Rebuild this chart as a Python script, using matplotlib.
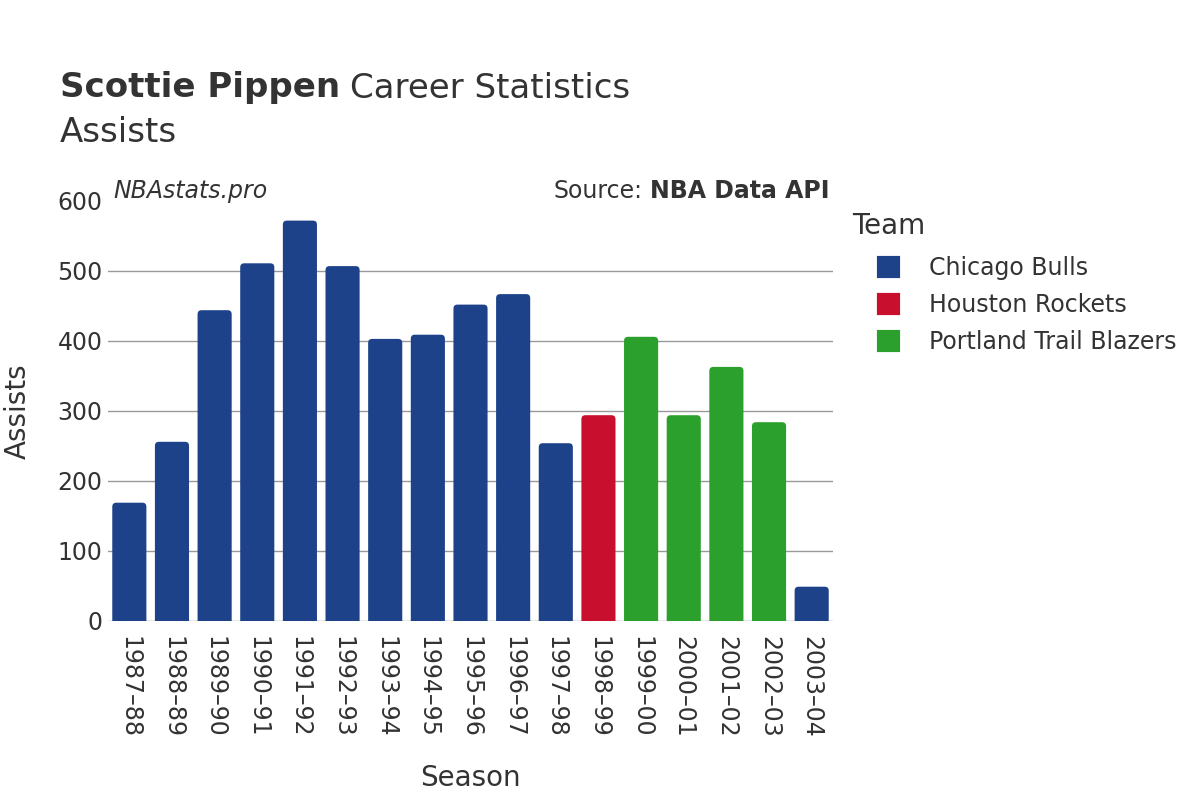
import matplotlib.pyplot as plt
from matplotlib.patches import FancyBboxPatch, Patch
import numpy as np

seasons = ['1987–88', '1988–89', '1989–90', '1990–91', '1991–92', '1992–93',
           '1993–94', '1994–95', '1995–96', '1996–97', '1997–98', '1998–99',
           '1999–00', '2000–01', '2001–02', '2002–03', '2003–04']
assists = [169, 256, 444, 511, 572, 507, 403, 409, 452, 467, 254, 294,
           406, 294, 363, 284, 49]
teams = ['Chicago Bulls'] * 11 + ['Houston Rockets'] + ['Portland Trail Blazers'] * 4 + ['Chicago Bulls']
team_names = ['Chicago Bulls', 'Houston Rockets', 'Portland Trail Blazers']
team_colors = {'Chicago Bulls': '#1d428a',
               'Houston Rockets': '#c8102e',
               'Portland Trail Blazers': '#2ca02c'}

text_color = '#333333'
plt.rcParams['font.family'] = ['DejaVu Sans']

W, H = 1200, 800
fig = plt.figure(figsize=(12, 8), dpi=100)
ax = fig.add_axes([108 / W, 1 - 621 / H, 725 / W, 420 / H])

x = np.arange(len(seasons))
ymax = 600
ax.set_xlim(-0.5, len(seasons) - 0.5)
ax.set_ylim(0, ymax)

# rounded top corners: box starts below zero, axes clipping hides the bottom
px_x = 725 / len(seasons)
px_y = 420 / ymax
rad = 4
bars = ax.bar(x, assists, width=0.8, color=[team_colors[t] for t in teams])
for b in bars:
    b.set_visible(False)
    r = rad / px_x
    asp = px_x / px_y
    p = FancyBboxPatch((b.get_x() + r, -20),
                       b.get_width() - 2 * r, b.get_height() + 20 - r * asp,
                       boxstyle=f'round,pad={r},rounding_size={r}',
                       mutation_aspect=asp,
                       facecolor=b.get_facecolor(), edgecolor='none', zorder=2)
    ax.add_patch(p)

ax.set_yticks(np.arange(0, 601, 100))
ax.yaxis.grid(True, color='#999999', linewidth=1)
ax.get_ygridlines()[-1].set_visible(False)
ax.get_ygridlines()[0].set_visible(False)
ax.set_axisbelow(True)
for s in ax.spines.values():
    s.set_visible(False)
ax.axhline(0, color='#e5e5e5', linewidth=2, zorder=1)
ax.tick_params(axis='both', length=0, labelsize=17, colors=text_color)
ax.tick_params(axis='y', pad=4)
ax.set_xticks(x)
ax.set_xticklabels(seasons, rotation=-90, fontsize=17)
ax.tick_params(axis='x', pad=11)

ax.set_xlabel('Season', fontsize=20, color=text_color)
ax.xaxis.set_label_coords(0.5, (621 - 778) / 420)
ax.xaxis.label.set_va('center')
ax.set_ylabel('Assists', fontsize=20, color=text_color)
ax.yaxis.set_label_coords((18 - 108) / 725, 0.5)
ax.yaxis.label.set_va('center')

t1 = fig.text(60 / W, 1 - 88 / H, 'Scottie Pippen', fontsize=24.5, fontweight='bold',
              color=text_color, va='center')
fig.text(60 / W, 1 - 132 / H, 'Assists', fontsize=24.5, color=text_color, va='center')

fig.text(113 / W, 1 - 191 / H, 'NBAstats.pro', fontsize=17, style='italic',
         color=text_color, va='center')
src = fig.text(830 / W, 1 - 191 / H, 'NBA Data API', fontsize=17, fontweight='bold',
               color=text_color, va='center', ha='right')

fig.canvas.draw()
r = fig.canvas.get_renderer()
e1 = t1.get_window_extent(r)
fig.text((e1.x1 + 10) / W, 1 - 88 / H, 'Career Statistics', fontsize=24.5,
         color=text_color, va='center')
e2 = src.get_window_extent(r)
fig.text((e2.x0 - 8) / W, 1 - 191 / H, 'Source:', fontsize=17,
         color=text_color, va='center', ha='right')

# legend
fig.text(852 / W, 1 - 226 / H, 'Team', fontsize=20, color=text_color, va='center')
handles = [Patch(facecolor=team_colors[t], edgecolor=team_colors[t], linewidth=3,
                 joinstyle='round', label=t) for t in team_names]
leg = fig.legend(handles=handles, loc='upper left',
                 bbox_to_anchor=(879 / W, 1 - 256 / H), frameon=False,
                 fontsize=17, handlelength=0.8, handleheight=0.8,
                 handletextpad=1.3, labelspacing=0.55, borderpad=0, borderaxespad=0)
for t in leg.get_texts():
    t.set_color(text_color)

fig.savefig('out.png', dpi=100)
